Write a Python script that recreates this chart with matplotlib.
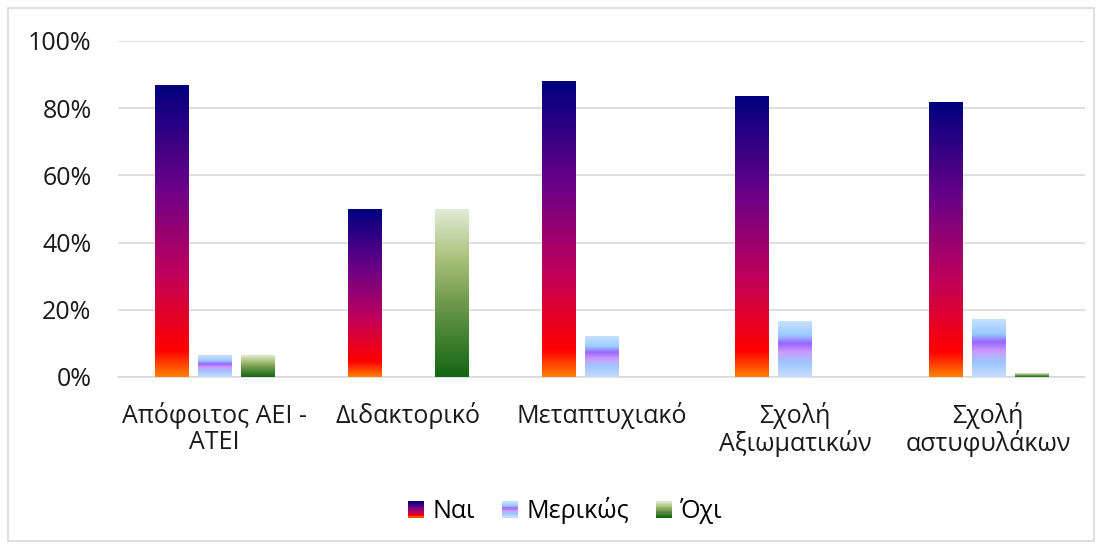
import numpy as np
import matplotlib
matplotlib.use('Agg')
import matplotlib.pyplot as plt
from matplotlib.colors import LinearSegmentedColormap
from matplotlib.patches import Rectangle
from matplotlib.legend_handler import HandlerBase
from matplotlib.ticker import PercentFormatter

plt.rcParams['font.family'] = ['Open Sans', 'DejaVu Sans']

categories = ['Απόφοιτος ΑΕΙ -\nΑΤΕΙ', 'Διδακτορικό', 'Μεταπτυχιακό',
              'Σχολή\nΑξιωματικών', 'Σχολή\nαστυφυλάκων']
series_names = ['Ναι', 'Μερικώς', 'Όχι']
nai = [86.9, 50.0, 87.8, 83.6, 81.8]
merikos = [6.5, 0.0, 12.2, 16.4, 17.0]
oxi = [6.5, 50.0, 0.0, 0.0, 1.1]
yticks = [0, 20, 40, 60, 80, 100]

FONT_SIZE = 18

# gradients, bottom -> top
cmaps = [
    LinearSegmentedColormap.from_list('nai', [
        (0.0, '#ff8000'), (0.09, '#ff0000'), (0.35, '#c0005a'),
        (0.65, '#6a0088'), (1.0, '#00007f')]),
    LinearSegmentedColormap.from_list('mer', [
        (0.0, '#c8dcff'), (0.25, '#9ec8ff'), (0.45, '#cc99ff'),
        (0.6, '#9966ff'), (0.75, '#99ccff'), (1.0, '#c8e0ff')]),
    LinearSegmentedColormap.from_list('oxi', [
        (0.0, '#146614'), (0.45, '#6f9a4e'), (0.7, '#a8c07a'),
        (1.0, '#e0ecd4')]),
]


class GradHandler(HandlerBase):
    # legend key drawn as a stack of thin strips so it shows the gradient
    def __init__(self, cmap):
        super().__init__()
        self.cmap = cmap

    def create_artists(self, legend, orig_handle, xdescent, ydescent,
                       width, height, fontsize, trans):
        n = 12
        s = height
        x0 = width - s
        arts = []
        for i in range(n):
            r = Rectangle((x0 - xdescent, -ydescent + i * s / n), s, s / n + 0.3,
                          facecolor=self.cmap((i + 0.5) / n), edgecolor='none',
                          transform=trans)
            arts.append(r)
        return arts


fig = plt.figure(figsize=(11.02, 5.49), dpi=100)
ax = fig.add_axes([118 / 1102, 1 - 377 / 549, 967 / 1102, 336 / 549])

x = np.arange(len(categories))
width = 0.171
offs = [-0.223, 0.0, 0.223]
handles = []
for vals, off, cm, name in zip([nai, merikos, oxi], offs, cmaps, series_names):
    bars = ax.bar(x + off, vals, width, color='none', edgecolor='none', label=name, zorder=3)
    grad = np.linspace(0, 1, 256).reshape(-1, 1)
    for b in bars:
        h = b.get_height()
        if h <= 0:
            continue
        x0 = b.get_x()
        ax.imshow(grad, cmap=cm, origin='lower', aspect='auto',
                  extent=(x0, x0 + b.get_width(), 0, h), zorder=3)
    handles.append(bars)

ax.set_xlim(-0.5, len(categories) - 0.5)
ax.set_ylim(0, 100)
ax.set_yticks(yticks)
ax.yaxis.set_major_formatter(PercentFormatter(decimals=0))
ax.set_xticks(x)
ax.set_xticklabels(categories, linespacing=1.05)
ax.tick_params(axis='both', length=0, labelsize=FONT_SIZE, colors='#1a1a1a')
ax.tick_params(axis='x', pad=18)
ax.tick_params(axis='y', pad=19)
ax.grid(axis='y', color='#d9d9d9', linewidth=1.2, zorder=0)
ax.set_axisbelow(True)
for sp in ['left', 'right', 'top']:
    ax.spines[sp].set_visible(False)
ax.spines['bottom'].set_color('#d9d9d9')
ax.spines['bottom'].set_linewidth(1.2)

leg = fig.legend(handles, series_names, loc='center', bbox_to_anchor=(566 / 1102, 1 - 511 / 549),
                 ncol=3, frameon=False, fontsize=FONT_SIZE, handlelength=0.6, handleheight=0.6,
                 handletextpad=0.35, columnspacing=1.1,
                 handler_map={h: GradHandler(c) for h, c in zip(handles, cmaps)})

fig.patches.append(Rectangle((8 / 1102, 8 / 549), 1086 / 1102, 533 / 549,
                             transform=fig.transFigure, fill=False,
                             edgecolor='#d9d9d9', linewidth=1.2))

fig.savefig('out.png', dpi=100)
